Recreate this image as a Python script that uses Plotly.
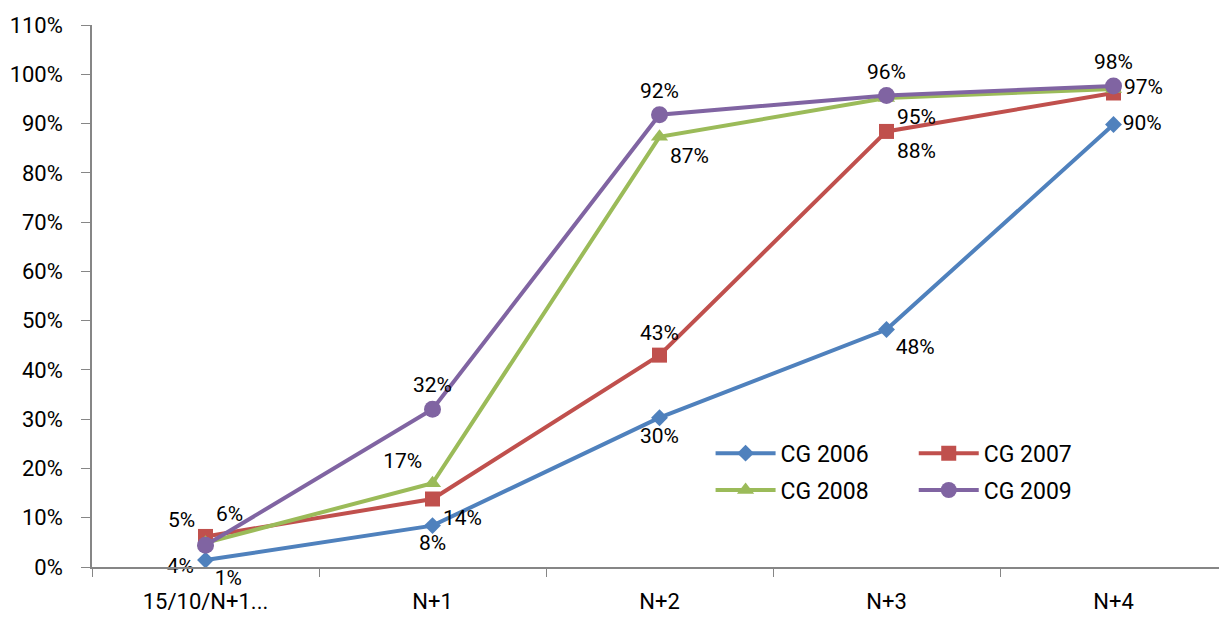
import plotly.graph_objects as go

categories = ["15/10/N+1...", "N+1", "N+2", "N+3", "N+4"]
series_names = ["CG 2006", "CG 2007", "CG 2008", "CG 2009"]
cg2006 = [1.4, 8.4, 30.3, 48.2, 89.8]
cg2007 = [6.2, 13.8, 43.0, 88.4, 96.2]
cg2008 = [4.9, 17.0, 87.3, 95.2, 97.0]
cg2009 = [4.4, 32.0, 91.8, 95.7, 97.6]
labels2006 = ["1%", "8%", "30%", "48%", "90%"]
labels2007 = ["6%", "14%", "43%", "88%", ""]
labels2008 = ["5%", "17%", "87%", "95%", "97%"]
labels2009 = ["4%", "32%", "92%", "96%", "98%"]

FONT = "Liberation Sans Narrow, Arial Narrow, Roboto, Liberation Sans, sans-serif"
colors = ["#4F81BD", "#C0504D", "#9BBB59", "#8064A2"]
symbols = ["diamond", "square", "triangle-up", "circle"]
sizes = [13, 15, 15, 17]
legend_ids = ["legend", "legend2", "legend3", "legend4"]
positions = [
    ["bottom right", "bottom center", "bottom center", "bottom right", "middle right"],
    ["top right", "bottom right", "top center", "bottom right", "middle right"],
    ["top left", "top left", "bottom right", "bottom right", "middle right"],
    ["bottom left", "top center", "top center", "top center", "top center"],
]

fig = go.Figure()
for name, vals, labs, col, sym, sz, pos, lg in zip(
    series_names, [cg2006, cg2007, cg2008, cg2009],
    [labels2006, labels2007, labels2008, labels2009],
    colors, symbols, sizes, positions, legend_ids):
    fig.add_trace(go.Scatter(
        x=categories, y=vals, name=name, mode="lines+markers+text",
        line=dict(color=col, width=4),
        marker=dict(symbol=sym, size=sz, color=col),
        text=labs, textposition=pos,
        textfont=dict(family=FONT, size=21, color="black"),
        cliponaxis=False, legend=lg,
    ))

legend_common = dict(
    orientation="v", xanchor="left", yanchor="middle",
    font=dict(family=FONT, size=23, color="black"),
    bgcolor="rgba(0,0,0,0)", itemwidth=60,
)

fig.update_layout(
    width=1219, height=609,
    margin=dict(l=84, r=0, t=17, b=50, autoexpand=False),
    paper_bgcolor="white", plot_bgcolor="white",
    font=dict(family=FONT, size=19, color="black"),
    showlegend=True,
    legend=dict(x=0.545, y=0.210, **legend_common),
    legend2=dict(x=0.724, y=0.210, **legend_common),
    legend3=dict(x=0.545, y=0.142, **legend_common),
    legend4=dict(x=0.724, y=0.142, **legend_common),
    xaxis=dict(
        type="category", showgrid=False, showline=True, linecolor="#868686", linewidth=1.5,
        ticks="outside", tickson="boundaries", ticklen=8, tickcolor="#868686",
        tickfont=dict(family=FONT, size=22, color="black"),
        ticklabelstandoff=14,
        range=[-0.5, 4.5], automargin=False,
    ),
    yaxis=dict(
        range=[0, 110], dtick=10, ticksuffix="%", showgrid=False,
        showline=True, linecolor="#868686", linewidth=1.5,
        ticks="outside", ticklen=9, tickcolor="#868686", zeroline=False,
        tickfont=dict(family=FONT, size=22, color="black"),
        ticklabelstandoff=14,
        automargin=False,
    ),
)

fig.write_html("out.html")
